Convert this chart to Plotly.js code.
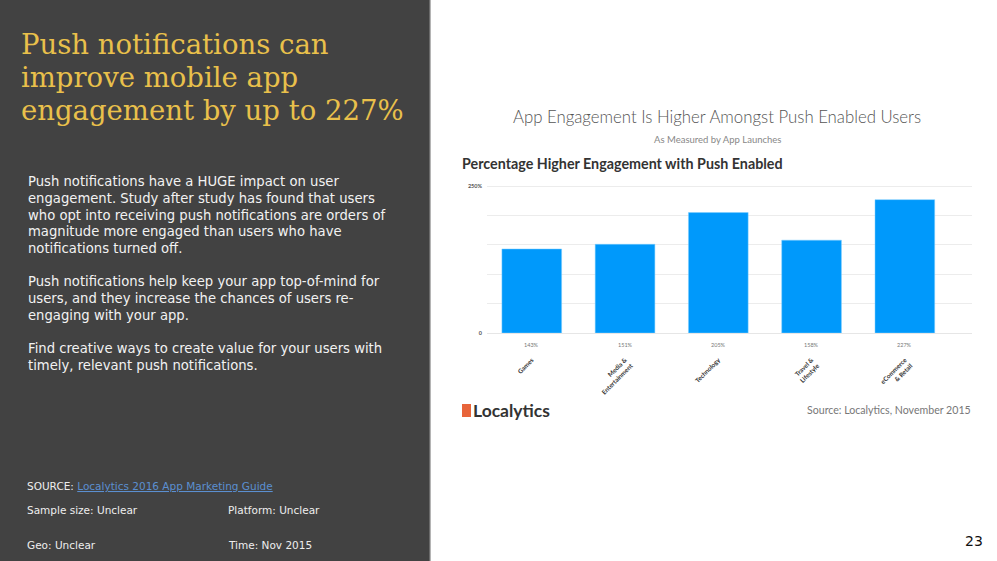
<!DOCTYPE html>
<html>
<head>
<meta charset="utf-8">
<script src="https://cdn.plot.ly/plotly-3.0.1.min.js"></script>
<style>html,body{margin:0;padding:0;background:#fff;}#chart{width:997px;height:561px;}</style>
</head>
<body>
<div id="chart"></div>
<script>
// ---- data ----
var categories = ["Games", "Media &<br>Entertainment", "Technology", "Travel &<br>Lifestyle", "eCommerce<br>& Retail"];
var engagementPct = [143, 151, 205, 158, 227];
var valueLabels = ["143%", "151%", "205%", "158%", "227%"];
var yTickVals = [0, 50, 100, 150, 200, 250];
var yTickText = ["0", "", "", "", "", "250%"];

// ---- layout geometry (pixels) ----
var W = 997, H = 561;
var L = 487, R = 972, T = 182, B = 333;
function px(x) { return (x - L) / (R - L); }
function py(y) { return (B - y) / (B - T); }

var sans = "DejaVu Sans, sans-serif";
var lato = "Lato, sans-serif";
var annotations = [];
function txt(x, y, text, size, color, anchor, family, weight) {
  annotations.push({xref: "paper", yref: "paper", x: px(x), y: py(y), text: text, showarrow: false,
    xanchor: anchor || "left", yanchor: "middle", align: "left", borderpad: 0,
    font: {family: family || sans, size: size, color: color, weight: weight || 400}});
}

// left panel title
var serif = "DejaVu Serif, serif";
txt(20, 44, "Push notifications can", 27.5, "#e9c04b", "left", serif);
txt(20, 77, "improve mobile app", 27.5, "#e9c04b", "left", serif);
txt(20, 110, "engagement by up to 227%", 27.5, "#e9c04b", "left", serif);

var body = [
  [181, "Push notifications have a HUGE impact on user"],
  [198, "engagement. Study after study has found that users"],
  [215, "who opt into receiving push notifications are orders of"],
  [231, "magnitude more engaged than users who have"],
  [248, "notifications turned off."],
  [281, "Push notifications help keep your app top-of-mind for"],
  [298, "users, and they increase the chances of users re-"],
  [315, "engaging with your app."],
  [348, "Find creative ways to create value for your users with"],
  [365, "timely, relevant push notifications."]
];
body.forEach(function (b) { txt(27, b[0], b[1], 13.2, "#f2f2f2"); });

txt(26, 486, "SOURCE: <span style=\"color:#5b8fd0\"><u>Localytics 2016 App Marketing Guide</u></span>", 10.5, "#eeeeee");
txt(26, 510, "Sample size: Unclear", 10.5, "#eeeeee");
txt(227, 510, "Platform: Unclear", 10.5, "#eeeeee");
txt(26, 545, "Geo: Unclear", 10.5, "#eeeeee");
txt(227, 545, "Time: Nov 2015", 10.5, "#eeeeee");
txt(984, 541, "23", 14, "#111111", "right");

// chart titles
txt(717, 116, "App Engagement Is Higher Amongst Push Enabled Users", 16.8, "#555555", "center", lato, 300);
txt(717, 139, "As Measured by App Launches", 9.5, "#888888", "center", lato, 400);
txt(461, 163, "Percentage Higher Engagement with Push Enabled", 14.3, "#333333", "left", lato, 700);
txt(472, 410, "Localytics", 17.5, "#333333", "left", lato, 700);
txt(972, 410, "Source: Localytics, November 2015", 10.6, "#777777", "right", lato, 400);

// value labels under bars
categories.forEach(function (c, i) {
  annotations.push({xref: "x", yref: "paper", x: c, y: py(345), text: valueLabels[i], showarrow: false,
    xanchor: "center", yanchor: "middle", font: {family: lato, size: 5.5, color: "#777777"}});
});

var shapes = [
  {type: "rect", xref: "paper", yref: "paper", x0: px(0), x1: px(429), y0: py(0), y1: py(H),
    fillcolor: "#424242", line: {width: 0}, layer: "below"},
  {type: "rect", xref: "paper", yref: "paper", x0: px(429), x1: px(430.5), y0: py(0), y1: py(H),
    fillcolor: "#6a6a6a", line: {width: 0}, layer: "below"},
  {type: "rect", xref: "paper", yref: "paper", x0: px(462), x1: px(471), y0: py(404), y1: py(417),
    fillcolor: "#e8643a", line: {width: 0}}
];

var trace = {
  type: "bar", x: categories, y: engagementPct,
  marker: {color: "#0099fb", line: {color: "#7fcfff", width: 0.5}},
  width: 0.64, hoverinfo: "skip"
};

var layout = {
  width: W, height: H,
  margin: {l: L, r: W - R, t: T, b: H - B, pad: 0},
  paper_bgcolor: "#ffffff", plot_bgcolor: "rgba(0,0,0,0)",
  showlegend: false,
  xaxis: {type: "category", range: [-0.48, 4.72], showgrid: false, zeroline: false, showline: false,
    tickangle: -45, ticks: "outside", ticklen: 20, tickcolor: "rgba(0,0,0,0)",
    tickfont: {family: lato, size: 6.3, color: "#333333", weight: 700}},
  yaxis: {range: [0, 257], tickvals: yTickVals, ticktext: yTickText, showgrid: true,
    gridcolor: "#ececec", gridwidth: 1, zeroline: true, zerolinecolor: "#e6e6e6", showline: false,
    ticks: "", ticklabelstandoff: 4,
    tickfont: {family: lato, size: 5.5, color: "#555555", weight: 700}},
  annotations: annotations,
  shapes: shapes
};

Plotly.newPlot("chart", [trace], layout, {displayModeBar: false, staticPlot: true});
</script>
</body>
</html>
